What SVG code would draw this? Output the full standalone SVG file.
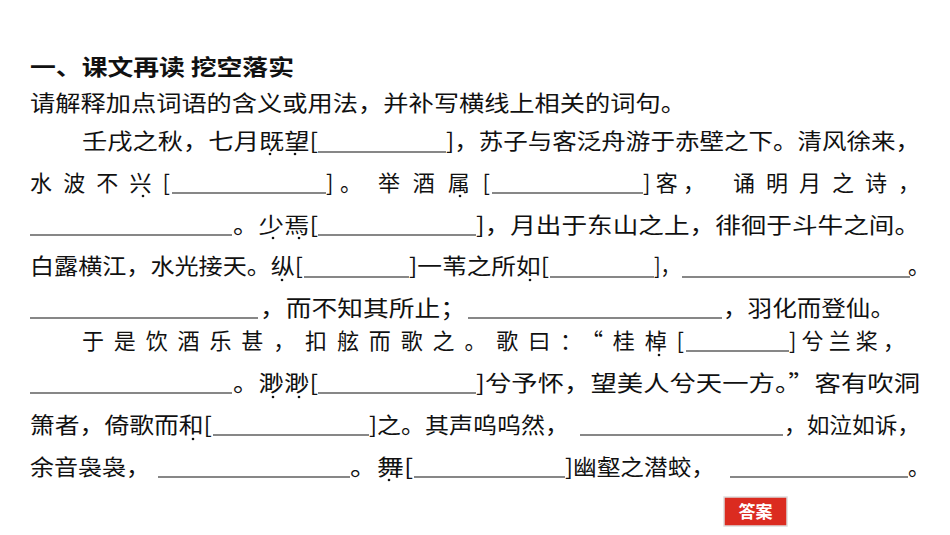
<svg xmlns="http://www.w3.org/2000/svg" width="950" height="535" viewBox="0 0 950 535">
<style>
text{font-family:"Noto Sans CJK SC","Liberation Sans",sans-serif;font-size:22px;fill:#111}
.t{font-weight:bold}
.b{stroke:#111;stroke-width:1.2}
.d{fill:#111}
.btn{font-size:17px;font-weight:bold;fill:#fff}
</style>
<rect width="950" height="535" fill="#fff"/>
<g id="title"><text class="t" x="30" y="75" textLength="264" lengthAdjust="spacingAndGlyphs">一、课文再读 挖空落实</text></g>
<g id="intro"><text x="30" y="111" textLength="656" lengthAdjust="spacingAndGlyphs">请解释加点词语的含义或用法，并补写横线上相关的词句。</text></g>
<g id="passage">
<text x="82" y="149" textLength="236" lengthAdjust="spacingAndGlyphs">壬戌之秋，七月既望[</text>
<text x="446" y="149" textLength="474" lengthAdjust="spacingAndGlyphs">]，苏子与客泛舟游于赤壁之下。清风徐来，</text>

<text x="30" y="191" textLength="140" lengthAdjust="spacing">水波不兴[</text>
<text x="326" y="191" textLength="36" lengthAdjust="spacing">]。</text>
<text x="378" y="191" textLength="112" lengthAdjust="spacing">举酒属[</text>
<text x="643" y="191" textLength="62" lengthAdjust="spacing">]客，</text>
<text x="733" y="191" textLength="187" lengthAdjust="spacing">诵明月之诗，</text>

<text x="233" y="233" textLength="85" lengthAdjust="spacingAndGlyphs">。少焉[</text>
<text x="476" y="233" textLength="444" lengthAdjust="spacingAndGlyphs">]，月出于东山之上，徘徊于斗牛之间。</text>

<text x="30" y="274" textLength="273" lengthAdjust="spacingAndGlyphs">白露横江，水光接天。纵[</text>
<text x="409" y="274" textLength="140" lengthAdjust="spacingAndGlyphs">]一苇之所如[</text>
<text x="654" y="274" textLength="26" lengthAdjust="spacingAndGlyphs">]，</text>
<text x="908" y="274">。</text>

<text x="260" y="316" textLength="206" lengthAdjust="spacingAndGlyphs">，而不知其所止；</text>
<text x="723" y="316" textLength="172" lengthAdjust="spacingAndGlyphs">，羽化而登仙。</text>

<text x="82" y="349" textLength="602" lengthAdjust="spacing">于是饮酒乐甚，扣舷而歌之。歌曰：“桂棹[</text>
<text x="789" y="349" textLength="116" lengthAdjust="spacing">]兮兰桨，</text>

<text x="233" y="391" textLength="85" lengthAdjust="spacingAndGlyphs">。渺渺[</text>
<text x="476" y="391" textLength="444" lengthAdjust="spacingAndGlyphs">]兮予怀，望美人兮天一方。”客有吹洞</text>

<text x="30" y="433" textLength="182" lengthAdjust="spacingAndGlyphs">箫者，倚歌而和[</text>
<text x="369" y="433" textLength="200" lengthAdjust="spacingAndGlyphs">]之。其声呜呜然，</text>
<text x="784" y="433" textLength="136" lengthAdjust="spacingAndGlyphs">，如泣如诉，</text>

<text x="30" y="475" textLength="120" lengthAdjust="spacingAndGlyphs">余音袅袅，</text>
<text x="350" y="475" textLength="63" lengthAdjust="spacingAndGlyphs">。舞[</text>
<text x="565" y="475" textLength="150" lengthAdjust="spacingAndGlyphs">]幽壑之潜蛟，</text>
<text x="908" y="475">。</text>
</g>
<g id="blanks">
<line class="b" x1="318" y1="152" x2="446" y2="152"/>
<line class="b" x1="172" y1="193" x2="326" y2="193"/>
<line class="b" x1="492" y1="193" x2="643" y2="193"/>
<line class="b" x1="30" y1="235" x2="232" y2="235"/>
<line class="b" x1="318" y1="235" x2="476" y2="235"/>
<line class="b" x1="304" y1="277" x2="409" y2="277"/>
<line class="b" x1="550" y1="277" x2="654" y2="277"/>
<line class="b" x1="682" y1="277" x2="910" y2="277"/>
<line class="b" x1="30" y1="318" x2="258" y2="318"/>
<line class="b" x1="468" y1="318" x2="722" y2="318"/>
<line class="b" x1="686" y1="351" x2="789" y2="351"/>
<line class="b" x1="30" y1="393" x2="232" y2="393"/>
<line class="b" x1="318" y1="393" x2="476" y2="393"/>
<line class="b" x1="213" y1="435" x2="369" y2="435"/>
<line class="b" x1="580" y1="435" x2="783" y2="435"/>
<line class="b" x1="158" y1="477" x2="350" y2="477"/>
<line class="b" x1="414" y1="477" x2="565" y2="477"/>
<line class="b" x1="730" y1="477" x2="908" y2="477"/>
</g>
<g id="dots">
<circle class="d" cx="270" cy="154" r="1.3"/><circle class="d" cx="295" cy="154" r="1.3"/>
<circle class="d" cx="143" cy="196" r="1.3"/><circle class="d" cx="460" cy="196" r="1.3"/>
<circle class="d" cx="273" cy="238" r="1.3"/><circle class="d" cx="299" cy="238" r="1.3"/>
<circle class="d" cx="282" cy="280" r="1.3"/><circle class="d" cx="530" cy="280" r="1.3"/>
<circle class="d" cx="659" cy="355" r="1.3"/>
<circle class="d" cx="273" cy="397" r="1.3"/><circle class="d" cx="299" cy="397" r="1.3"/>
<circle class="d" cx="193" cy="439" r="1.3"/>
<circle class="d" cx="389" cy="480" r="1.3"/>
</g>
<g id="answer">
<rect x="724" y="497" width="63" height="29" fill="#db2b20" stroke="#ddd" stroke-width="1.5"/>
<text class="btn" x="755.5" y="518" text-anchor="middle">答案</text>
</g>
</svg>
